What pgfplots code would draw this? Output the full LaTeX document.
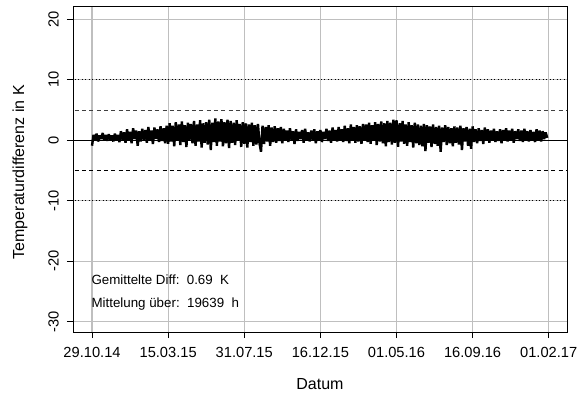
\documentclass[border=0pt]{standalone}
\usepackage{fontspec}
\setmainfont{Liberation Sans}
\usepackage{pgfplots}
\pgfplotsset{compat=1.18}
\begin{document}
\begin{tikzpicture}
\begin{axis}[
  scale only axis, width=370.5pt, height=244.5pt,
  xmin=-0.25, xmax=6.24, ymin=-31.7, ymax=22.2,
  xtick={0,1,2,3,4,5,6},
  xticklabels={29.10.14,15.03.15,31.07.15,16.12.15,01.05.16,16.09.16,01.02.17},
  ytick={-30,-20,-10,0,10,20},
  /pgf/number format/assume math mode=true,
  tick align=outside, tick pos=left, major tick length=4.5pt,
  tick style={black, line width=0.6pt},
  axis line style={black, line width=0.7pt},
  grid=major, grid style={black!25, line width=0.8pt},
  ticklabel style={font=\fontsize{11}{13}\selectfont},
  xticklabel style={anchor=center, yshift=-10.5pt},
  yticklabel style={xshift=-10pt, rotate=90, anchor=center},
  xlabel={Datum}, ylabel={Temperaturdifferenz in K},
  label style={font=\fontsize{12}{14}\selectfont},
  xlabel style={at={(axis description cs:0.5,-0.1595)}, anchor=center},
  ylabel style={at={(axis description cs:-0.1073,0.49)}, anchor=center},
  clip=true,
]
\addplot[black, line width=0.6pt, dotted, forget plot] coordinates {(-1,10) (7,10)};
\addplot[black, line width=0.6pt, dotted, forget plot] coordinates {(-1,-10) (7,-10)};
\addplot[black!75, line width=0.7pt, dash pattern=on 3pt off 2.5pt, forget plot] coordinates {(-1,5) (7,5)};
\addplot[black, line width=0.7pt, dash pattern=on 3pt off 2.5pt, forget plot] coordinates {(-1,-5) (7,-5)};
\addplot[black, line width=0.6pt, forget plot] coordinates {(-1,0) (7,0)};
\addplot[black, line width=1.8pt, line join=bevel] table[row sep=\\, x expr=\coordindex*0.02, y index=0] {
y\\
-0.9\\ 0.9\\ 0.1\\ 1.1\\ -0.2\\ 0.8\\ 0.2\\ 1.2\\ 0.0\\ 0.9\\ -0.1\\ 1.0\\ 0.1\\ 0.8\\ -0.2\\ 1.1\\ 0.0\\ 0.9\\
-0.3\\ 1.5\\ 0.1\\ 1.3\\ -0.4\\ 1.8\\ 0.0\\ 1.4\\ -0.5\\ 2.0\\ 0.2\\ 1.6\\ -0.9\\ 1.5\\ -0.2\\ 1.9\\ 0.1\\ 1.7\\ -0.4\\ 2.2\\
0.0\\ 1.6\\ -0.6\\ 2.1\\ 0.2\\ 1.8\\ -0.3\\ 2.3\\ -0.1\\ 2.0\\ -0.5\\ 2.4\\
-0.6\\ 2.8\\ -0.2\\ 2.4\\ -1.0\\ 3.0\\ 0.0\\ 2.6\\ -0.8\\ 3.1\\ -0.3\\ 2.5\\ -1.1\\ 2.9\\ 0.1\\ 2.7\\ -0.5\\ 3.2\\ -0.9\\ 2.6\\
-0.2\\ 3.3\\ -1.2\\ 2.8\\ -0.4\\ 3.0\\ -0.7\\ 3.4\\ -1.6\\ 2.9\\ -0.3\\ 3.6\\ -0.9\\ 3.1\\ -0.2\\ 3.5\\ -1.0\\ 3.0\\ -0.5\\ 3.4\\
-1.3\\ 3.2\\ -0.4\\ 2.9\\ -0.8\\ 3.3\\ -0.1\\ 2.7\\ -1.1\\ 3.0\\ -0.6\\ 2.8\\ -1.2\\ 2.6\\ -0.3\\ 2.9\\ -0.9\\ 2.5\\ -0.7\\ 2.7\\
-0.5\\ -1.9\\ 2.4\\ -0.6\\ 2.2\\ -0.2\\ 2.5\\ -0.9\\ 2.1\\ -0.3\\ 2.3\\ -0.4\\ 2.0\\ -0.1\\ 2.2\\
-0.5\\ 1.9\\ 0.0\\ 1.6\\ -0.3\\ 2.0\\ 0.1\\ 1.5\\ -0.6\\ 1.8\\ -0.1\\ 1.4\\ 0.2\\ 1.7\\ -0.4\\ 1.9\\ 0.0\\ 1.3\\ -0.2\\ 1.6\\
0.1\\ 1.8\\ -0.5\\ 1.5\\ 0.0\\ 1.7\\ -0.3\\ 1.4\\ 0.2\\ 1.9\\ -0.1\\ 1.6\\ -0.4\\ 2.1\\ 0.0\\ 1.7\\ -0.2\\ 2.2\\ 0.1\\ 1.8\\
-0.3\\ 2.4\\ -0.1\\ 2.0\\ -0.5\\ 2.6\\ 0.0\\ 2.2\\ -0.4\\ 2.5\\ -0.2\\ 2.3\\ -0.6\\ 2.7\\ 0.0\\
2.6\\ -0.3\\ 2.9\\ -0.6\\ 2.5\\ 0.0\\ 3.0\\ -0.8\\ 2.7\\ -0.2\\ 3.1\\ -0.5\\ 2.8\\ -1.0\\ 3.2\\ -0.3\\ 2.9\\ -0.7\\ 3.4\\ -0.4\\
3.3\\ -1.1\\ 2.8\\ -0.2\\ 3.2\\ -0.6\\ 2.6\\ -0.9\\ 3.0\\ -0.3\\ 2.5\\ -1.2\\ 2.9\\ -0.5\\ 2.6\\ -0.8\\ 2.4\\ -1.0\\ 2.7\\ -1.8\\
2.5\\ -0.4\\ 2.3\\ -1.1\\ 2.6\\ -0.6\\ 2.2\\ -0.9\\ 2.4\\ -1.9\\ 2.1\\ -0.3\\ 2.5\\ -0.8\\ 2.2\\ -0.5\\ 2.0\\ -1.0\\ 2.3\\ -0.4\\
2.1\\ -0.7\\ 2.4\\ -1.6\\ 2.0\\ -0.2\\ 2.2\\ -0.9\\ 1.9\\ -1.4\\ 2.3\\ -0.3\\ 1.8\\ -0.5\\ 2.0\\ -0.1\\ 1.7\\ -0.6\\ 2.1\\ 0.0\\
1.8\\ -0.4\\ 1.6\\ 0.1\\ 1.9\\ -0.3\\ 1.5\\ -0.1\\ 1.8\\ -0.5\\ 1.7\\ 0.1\\ 2.0\\ -0.2\\ 1.6\\ 0.0\\ 1.9\\ -0.4\\ 1.5\\ 0.2\\
1.8\\ -0.1\\ 1.6\\ -0.3\\ 1.9\\ 0.1\\ 1.5\\ -0.2\\ 1.7\\ 0.0\\ 1.4\\ -0.3\\ 1.8\\ 0.1\\ 1.6\\ -0.2\\ 1.5\\ 0.2\\ 1.3\\ 0.4\\
};
\node[anchor=west, inner sep=0pt, font=\fontsize{10}{12}\selectfont] at (axis cs:-0.01,-23.1) {Gemittelte Diff:\ \ 0.69\ \ K};
\node[anchor=west, inner sep=0pt, font=\fontsize{10}{12}\selectfont] at (axis cs:-0.01,-27.1) {Mittelung über:\ \ 19639\ \ h};
\end{axis}
\pgfresetboundingbox
\path ([xshift=-54.75pt,yshift=-46.5pt]current axis.south west) rectangle ([xshift=11.25pt,yshift=4.5pt]current axis.north east);
\end{tikzpicture}
\end{document}
